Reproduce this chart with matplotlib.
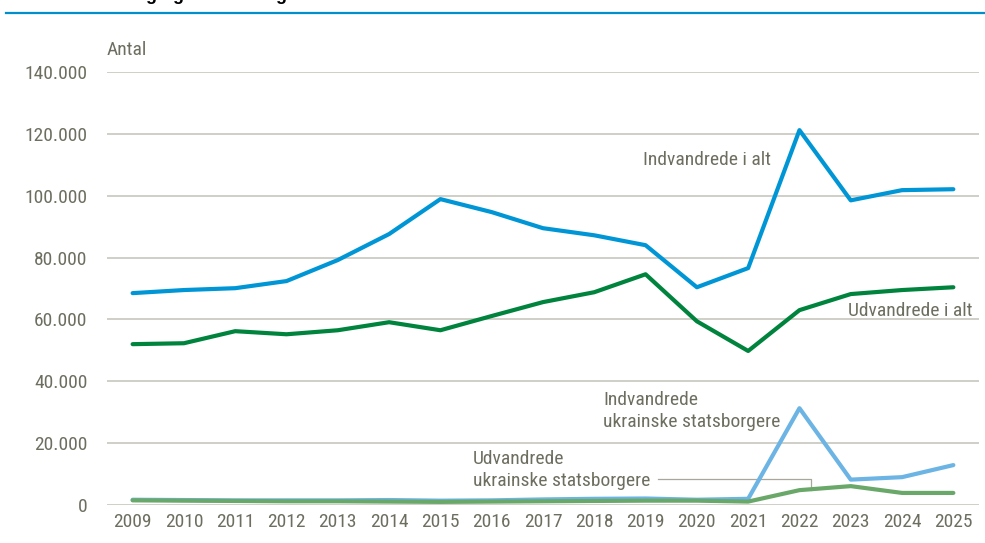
import matplotlib
matplotlib.use('Agg')
import matplotlib.pyplot as plt
from matplotlib.lines import Line2D
from matplotlib.ticker import FuncFormatter

# data
years = list(range(2009, 2026))
indv_alt = [68500, 69500, 70100, 72400, 79200, 87600, 98900, 94700, 89500,
            87200, 84000, 70400, 76600, 121200, 98500, 101800, 102100]
udv_alt = [52000, 52300, 56200, 55200, 56500, 59100, 56500, 61100, 65600,
           68800, 74600, 59400, 49800, 63000, 68200, 69500, 70400]
indv_ukr = [1700, 1600, 1500, 1500, 1500, 1600, 1400, 1500, 1800,
            2000, 2100, 1700, 2000, 31300, 8200, 9000, 12900]
udv_ukr = [1500, 1400, 1300, 1200, 1200, 1100, 1000, 1100, 1200,
           1300, 1400, 1400, 1100, 4800, 6100, 3900, 3900]
yticks = [0, 20000, 40000, 60000, 80000, 100000, 120000, 140000]

# colors / fonts
c_blue = '#0096D6'
c_green = '#00843D'
c_lblue = '#6CB4E4'
c_lgreen = '#6AA86A'
c_text = '#6E6E60'
c_grid = '#C4C2B8'
plt.rcParams['font.family'] = ['Roboto Condensed', 'DejaVu Sans']

fig = plt.figure(figsize=(9.85, 5.43), dpi=100)
ax = fig.add_axes([0.1086, 0.070, 0.8853, 0.7974])

ax.plot(years, indv_alt, color=c_blue, lw=3, solid_capstyle='round', zorder=4)
ax.plot(years, udv_alt, color=c_green, lw=3, solid_capstyle='round', zorder=4)
ax.plot(years, indv_ukr, color=c_lblue, lw=3, solid_capstyle='round', zorder=3)
ax.plot(years, udv_ukr, color=c_lgreen, lw=3, solid_capstyle='round', zorder=4)

ax.set_xlim(2008.5, 2025.5)
ax.set_ylim(0, 140000)
ax.set_xticks(years)
ax.set_yticks(yticks)
ax.yaxis.set_major_formatter(FuncFormatter(lambda v, p: '{:,.0f}'.format(v).replace(',', '.')))
ax.grid(axis='y', color=c_grid, lw=1.1)
ax.set_axisbelow(True)
for s in ax.spines.values():
    s.set_visible(False)
ax.tick_params(axis='both', length=0, labelsize=14, labelcolor=c_text)
ax.tick_params(axis='y', pad=14)
ax.tick_params(axis='x', pad=6)

# labels
kw = dict(fontsize=14, color=c_text, ha='left', va='center')
ax.text(2018.95, 111500, 'Indvandrede i alt', **kw)
ax.text(2022.95, 62700, 'Udvandrede i alt', **kw)
ax.text(2018.17, 30400, 'Indvandrede\nukrainske statsborgere', linespacing=1.3, **kw)
ax.text(2015.63, 11300, 'Udvandrede\nukrainske statsborgere', linespacing=1.3, **kw)
ax.plot([2019.24, 2022.23, 2022.23], [8400, 8400, 4900], color='#A8A79C', lw=0.9, zorder=2)
ax.text(0.0, 1.051, 'Antal', transform=ax.transAxes, fontsize=14, color=c_text,
        ha='left', va='center')

# header
fig.add_artist(Line2D([6 / 985, 1.0], [1 - 13 / 543] * 2, color='#008FCC', lw=1.6))
fig.text(0.055, 1.0, 'Indvandring og udvandring', fontsize=13, fontweight='bold',
         family=['Liberation Sans', 'DejaVu Sans'], color='black', va='baseline')

fig.savefig('out.png', dpi=100)
